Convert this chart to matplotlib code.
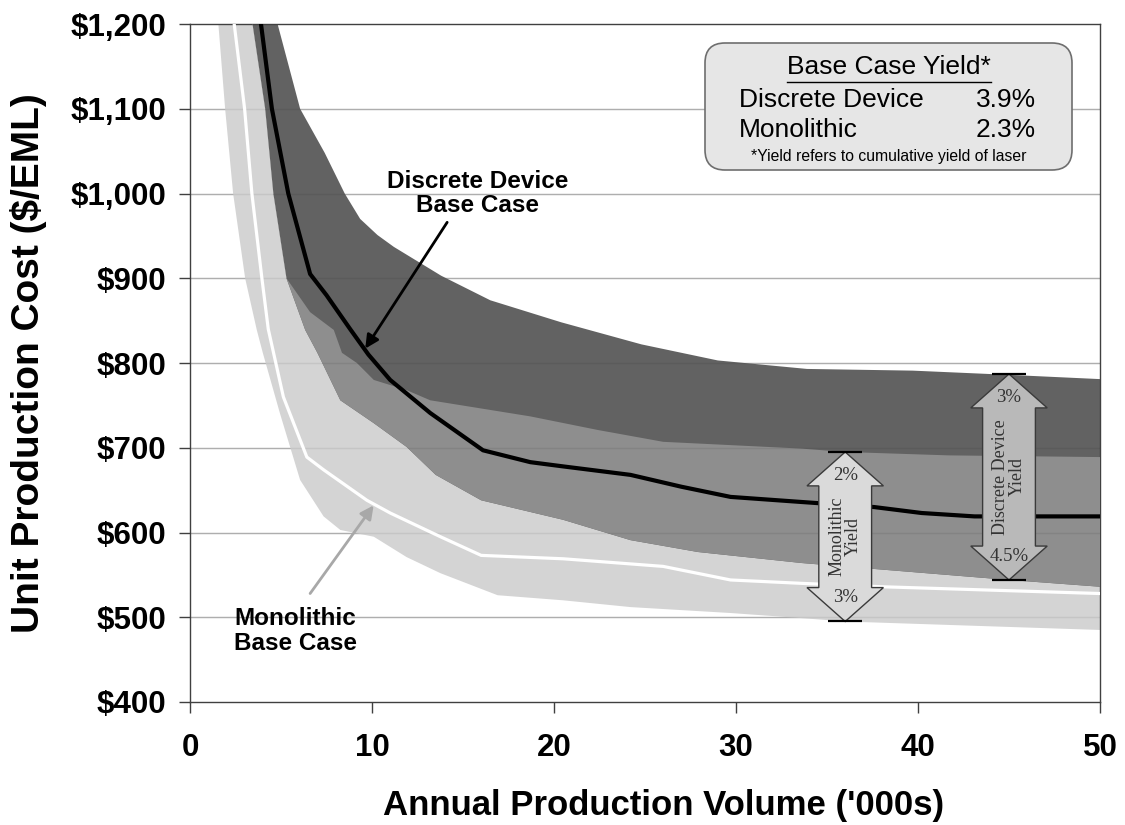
import numpy as np
import matplotlib
matplotlib.use("Agg")
import matplotlib.pyplot as plt
from matplotlib.patches import Polygon, FancyBboxPatch
from matplotlib.lines import Line2D

# ---- data: unit production cost ($/EML) vs annual volume ('000s) ----
# Discrete device, upper bound (3% yield)
disc_hi_x = [4.6, 4.75, 6.05, 7.4, 8.5, 9.35, 10.3, 11.2, 13.8, 16.5, 20.4, 24.8, 29.0, 33.9, 39.7, 45.0, 50.0]
disc_hi_y = [1230, 1205, 1100, 1048, 1000, 970, 951, 937, 903, 874, 848, 822, 803, 793, 791, 786, 781]
# Discrete device, base case (3.9% yield)
disc_base_x = [3.8, 3.9, 4.5, 5.4, 6.6, 7.5, 8.8, 9.8, 11.0, 13.2, 16.1, 18.7, 20.5, 24.2, 27.0, 29.7,
               33.6, 37.6, 40.2, 43.1, 46.8, 50.0]
disc_base_y = [1230, 1200, 1100, 1000, 905, 880, 840, 810, 780, 741, 697, 683, 678, 668, 654, 642,
               636, 630, 623, 619, 619, 619]
# Discrete device, lower bound (4.5% yield)
disc_lo_x = [3.3, 3.4, 4.13, 4.58, 5.3, 6.33, 7.0, 8.26, 10.1, 11.9, 13.5, 16.0, 20.5, 24.2, 27.9, 33.6, 45.0, 50.0]
disc_lo_y = [1230, 1205, 1100, 1000, 900, 839, 812, 756, 729, 701, 668, 638, 615, 591, 577, 564, 544, 536]

# Monolithic, upper bound (2% yield)
mono_hi_x = [3.3, 3.4, 4.13, 4.58, 5.3, 6.6, 7.9, 8.35, 9.17, 10.1, 11.9, 13.2, 18.7, 22.4, 26.0, 33.6,
             36.0, 41.7, 50.0]
mono_hi_y = [1230, 1205, 1100, 1000, 900, 860, 839, 812, 800, 780, 768, 756, 737, 721, 707, 699,
             695, 691, 689]
# Monolithic, base case (2.3% yield)
mono_base_x = [2.3, 2.4, 3.0, 3.4, 3.95, 4.3, 5.13, 6.42, 7.34, 9.72, 11.0, 13.76, 16.0, 20.5, 26.0, 29.7,
               33.6, 38.0, 50.0]
mono_base_y = [1230, 1205, 1100, 1000, 900, 840, 760, 689, 674, 638, 623, 595, 573, 569, 560, 544,
               540, 536, 528]
# Monolithic, lower bound (3% yield)
mono_lo_x = [1.45, 1.54, 1.93, 2.37, 3.03, 3.67, 4.0, 4.95, 6.05, 7.34, 8.26, 10.1, 11.9, 13.76, 16.9,
             20.5, 24.2, 29.7, 33.6, 36.0, 50.0]
mono_lo_y = [1230, 1205, 1100, 1000, 900, 839, 812, 740, 662, 619, 603, 595, 571, 552, 526,
             520, 512, 505, 499, 495, 485]

# yield-range markers: (x position, top cost, bottom cost, top label, bottom label, title)
mono_range = (36.0, 695, 495, "2%", "3%", "Monolithic\nYield")
disc_range = (45.0, 787, 544, "3%", "4.5%", "Discrete Device\nYield")

legend_rows = [("Discrete Device", "3.9%"), ("Monolithic", "2.3%")]

x_ticks = [0, 10, 20, 30, 40, 50]
y_ticks = [400, 500, 600, 700, 800, 900, 1000, 1100, 1200]

# ---- styling ----
DARK = "#626262"
MID = "#8e8e8e"
LIGHT = "#d4d4d4"
SANS = ["Liberation Sans", "DejaVu Sans"]
SERIF = ["Liberation Serif", "DejaVu Serif"]

fig = plt.figure(figsize=(11.25, 8.25), dpi=100)
ax = fig.add_axes([190 / 1125, 1 - 702 / 825, 910 / 1125, 678 / 825])
ax.set_xlim(0, 50)
ax.set_ylim(400, 1200)

# gridlines
for yv in y_ticks[1:-1]:
    ax.axhline(yv, color="#bcbcbc", lw=1.0, zorder=0.5)

# monolithic band
mono_poly_x = np.r_[mono_hi_x, mono_lo_x[::-1]]
mono_poly_y = np.r_[mono_hi_y, mono_lo_y[::-1]]
ax.fill(mono_poly_x, mono_poly_y, color=LIGHT, lw=0, zorder=1)

# discrete band
disc_patch = ax.fill(np.r_[disc_hi_x, disc_lo_x[::-1]], np.r_[disc_hi_y, disc_lo_y[::-1]],
                     color=DARK, lw=0, zorder=2)[0]

# overlap of the two bands
overlap = ax.fill(mono_poly_x, mono_poly_y, color=MID, lw=0, zorder=3)[0]
overlap.set_clip_path(disc_patch)

# faint gridline overlay
for yv in y_ticks[1:-1]:
    ax.axhline(yv, color="black", alpha=0.07, lw=1.0, zorder=3.5)

# base-case curves
ax.plot(mono_base_x, mono_base_y, color="white", lw=2.3, zorder=4, solid_joinstyle="round")
ax.plot(disc_base_x, disc_base_y, color="black", lw=3.0, zorder=5, solid_joinstyle="round")


def yield_arrow(spec, fill):
    x, top, bot, lab_top, lab_bot, title = spec
    sw, hw, hl = 1.45, 2.1, 40.0
    verts = [(x, top), (x + hw, top - hl), (x + sw, top - hl), (x + sw, bot + hl),
             (x + hw, bot + hl), (x, bot), (x - hw, bot + hl), (x - sw, bot + hl),
             (x - sw, top - hl), (x - hw, top - hl)]
    ax.add_patch(Polygon(verts, closed=True, facecolor=fill, edgecolor="#3a3a3a", lw=1.0, zorder=6))
    for yv in (top, bot):
        ax.plot([x - 0.95, x + 0.95], [yv, yv], color="black", lw=1.6, zorder=7,
                solid_capstyle="butt")
    ax.text(x, top - 28, lab_top, ha="center", va="center", fontsize=13.5, family=SERIF,
            color="#333333", zorder=8)
    ax.text(x, bot + 28, lab_bot, ha="center", va="center", fontsize=13.5, family=SERIF,
            color="#333333", zorder=8)
    ax.text(x, (top + bot) / 2, title, ha="center", va="center", rotation=90, fontsize=13,
            family=SERIF, color="#333333", linespacing=0.95, zorder=8)


yield_arrow(mono_range, "#dadada")
yield_arrow(disc_range, "#b9b9b9")

# call-outs for the base cases
ax.text(15.8, 1000, "Discrete Device\nBase Case", ha="center", va="center", fontsize=17.5,
        fontweight="bold", family=SANS, linespacing=1.05, zorder=9)
ax.annotate("", xy=(9.63, 817), xytext=(14.13, 966),
            arrowprops=dict(arrowstyle="-|>", color="black", lw=2.0, mutation_scale=20,
                            shrinkA=0, shrinkB=0), zorder=9)
ax.text(5.8, 484, "Monolithic\nBase Case", ha="center", va="center", fontsize=17.5,
        fontweight="bold", family=SANS, linespacing=1.1, zorder=9)
ax.annotate("", xy=(10.09, 632), xytext=(6.6, 528),
            arrowprops=dict(arrowstyle="-|>", color="#a8a8a8", lw=2.0, mutation_scale=20,
                            shrinkA=0, shrinkB=0), zorder=9)

# axes styling
ax.set_xticks(x_ticks)
ax.set_yticks(y_ticks)
ax.set_yticklabels([f"${v:,.0f}" for v in y_ticks])
for lab in ax.get_xticklabels() + ax.get_yticklabels():
    lab.set_family(SANS)
    lab.set_fontweight("bold")
    lab.set_fontsize(22.5)
ax.tick_params(axis="both", direction="out", length=8, width=1, color="#404040", pad=9)
ax.tick_params(axis="x", pad=14)
for sp in ax.spines.values():
    sp.set_color("#404040")
    sp.set_linewidth(1.0)

ax.set_ylabel("Unit Production Cost ($/EML)", fontsize=28, fontweight="bold", family=SANS)
ax.yaxis.set_label_coords(-0.157, 0.5)
ax.set_xlabel("Annual Production Volume ('000s)", fontsize=25, fontweight="bold", family=SANS,
              va="bottom")
ax.xaxis.set_label_coords(0.52, (702 - 822) / 678)

# yield summary box
inch = fig.dpi_scale_trans
box = FancyBboxPatch((7.05, (825 - 170) / 100), 3.67, 1.27,
                     boxstyle="round,pad=0,rounding_size=0.2", transform=inch,
                     facecolor="#e6e6e6", edgecolor="#6e6e6e", lw=1.2, zorder=10)
fig.patches.append(box)
title = fig.text(8.888, (825 - 67) / 100, "Base Case Yield*", transform=inch, ha="center",
                 va="center", fontsize=19, family=SANS, zorder=11)
row_y = [(825 - 100) / 100, (825 - 130) / 100]
for (name, val), yy in zip(legend_rows, row_y):
    fig.text(7.39, yy, name, transform=inch, ha="left", va="center", fontsize=19, family=SANS,
             zorder=11)
    fig.text(10.36, yy, val, transform=inch, ha="right", va="center", fontsize=19, family=SANS,
             zorder=11)
fig.text(8.888, (825 - 156) / 100, "*Yield refers to cumulative yield of laser", transform=inch,
         ha="center", va="center", fontsize=11.3, family=SANS, zorder=11)

# underline the box title
fig.canvas.draw()
bb = title.get_window_extent()
fig.add_artist(Line2D([bb.x0, bb.x1], [bb.y0 - 3, bb.y0 - 3], transform=None, color="black",
                      lw=1.0, zorder=11))

fig.savefig("out.png", dpi=100)
